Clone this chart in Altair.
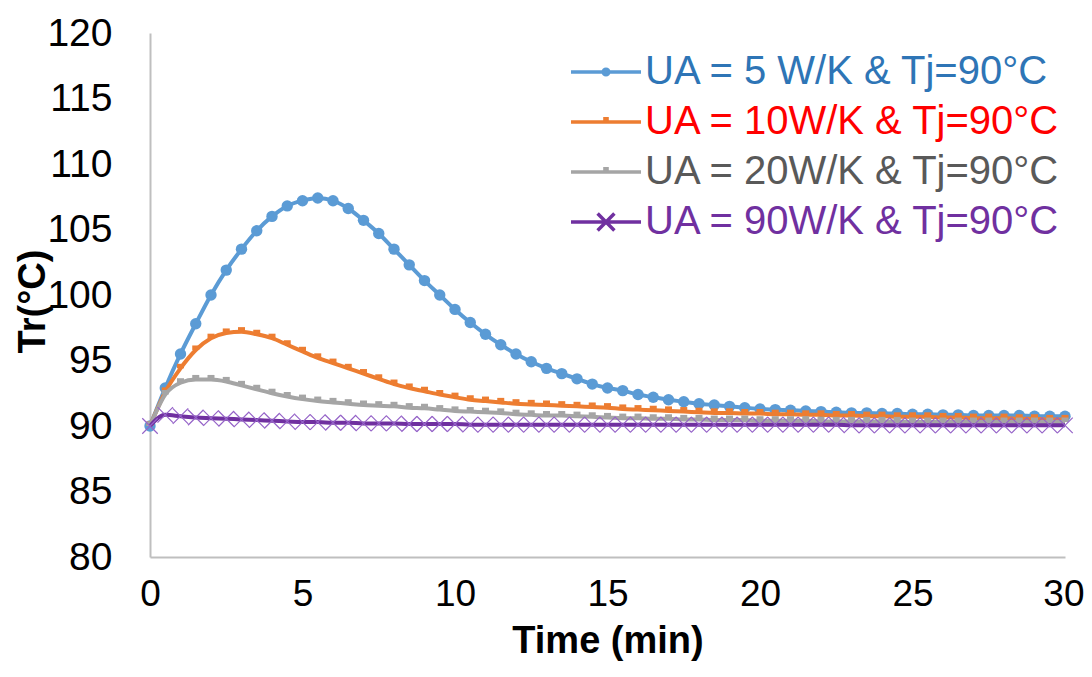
import altair as alt
import pandas as pd

TIME = [0, 0.5, 1, 1.5, 2, 2.5, 3, 3.5, 4, 4.5, 5, 5.5, 6, 6.5, 7, 7.5, 8, 8.5, 9, 9.5,
        10, 10.5, 11, 11.5, 12, 12.5, 13, 13.5, 14, 14.5, 15, 15.5, 16, 16.5, 17, 17.5,
        18, 18.5, 19, 19.5, 20, 20.5, 21, 21.5, 22, 22.5, 23, 23.5, 24, 24.5, 25, 25.5,
        26, 26.5, 27, 27.5, 28, 28.5, 29, 29.5, 30]

SERIES = ["UA = 5 W/K & Tj=90°C", "UA = 10W/K & Tj=90°C",
          "UA = 20W/K & Tj=90°C", "UA = 90W/K & Tj=90°C"]

TR_UA5 = [90.0, 92.9, 95.5, 97.8, 100.0, 101.9, 103.5, 104.9, 106.0, 106.8,
          107.2, 107.4, 107.2, 106.6, 105.7, 104.7, 103.5, 102.3, 101.1, 100.0,
          98.9, 97.9, 97.0, 96.2, 95.5, 94.9, 94.4, 94.0, 93.6, 93.2,
          92.9, 92.7, 92.4, 92.2, 92.0, 91.85, 91.7, 91.6, 91.5, 91.4,
          91.3, 91.25, 91.2, 91.15, 91.1, 91.05, 91.0, 91.0, 90.95, 90.95,
          90.9, 90.9, 90.85, 90.85, 90.8, 90.8, 90.8, 90.8, 90.75, 90.75, 90.75]

TR_UA10 = [90.0, 92.6, 94.4, 95.8, 96.7, 97.1, 97.2, 97.0, 96.7, 96.2,
           95.7, 95.2, 94.8, 94.4, 94.0, 93.6, 93.2, 92.9, 92.65, 92.4,
           92.2, 92.0, 91.9, 91.8, 91.7, 91.65, 91.6, 91.55, 91.5, 91.45,
           91.4, 91.3, 91.25, 91.2, 91.15, 91.1, 91.05, 91.0, 91.0, 90.95,
           90.95, 90.9, 90.9, 90.85, 90.85, 90.8, 90.8, 90.75, 90.75, 90.7,
           90.7, 90.7, 90.65, 90.65, 90.6, 90.6, 90.6, 90.55, 90.55, 90.5, 90.5]

TR_UA20 = [90.0, 92.4, 93.3, 93.55, 93.55, 93.4, 93.1, 92.8, 92.5, 92.25,
           92.05, 91.9, 91.8, 91.7, 91.6, 91.55, 91.5, 91.4, 91.35, 91.25,
           91.15, 91.1, 91.05, 91.0, 90.9, 90.85, 90.8, 90.8, 90.75, 90.7,
           90.65, 90.6, 90.6, 90.55, 90.55, 90.5, 90.5, 90.45, 90.45, 90.45,
           90.4, 90.4, 90.4, 90.4, 90.35, 90.35, 90.35, 90.35, 90.35, 90.35,
           90.3, 90.3, 90.3, 90.3, 90.3, 90.3, 90.3, 90.3, 90.3, 90.3, 90.3]

TR_UA90 = [90.0, 90.85, 90.75, 90.65, 90.6, 90.55, 90.5, 90.45, 90.4, 90.35,
           90.3, 90.3, 90.25, 90.25, 90.2, 90.2, 90.2, 90.15, 90.15, 90.15,
           90.15, 90.1, 90.1, 90.1, 90.1, 90.1, 90.1, 90.1, 90.1, 90.1,
           90.1, 90.1, 90.1, 90.1, 90.1, 90.1, 90.1, 90.1, 90.1, 90.1,
           90.1, 90.1, 90.1, 90.1, 90.1, 90.1, 90.05, 90.05, 90.05, 90.05,
           90.05, 90.05, 90.05, 90.05, 90.05, 90.05, 90.05, 90.05, 90.05, 90.05, 90.05]

X_TICKS = [0, 5, 10, 15, 20, 25, 30]
Y_TICKS = [80, 85, 90, 95, 100, 105, 110, 115, 120]

LINE_COLORS = ["#5B9BD5", "#ED7D31", "#A5A5A5", "#7030A0"]
LABEL_COLORS = ["#2E75B6", "#FF0000", "#595959", "#7030A0"]
LEGEND_SHAPES = [
    "M-1,0L9,0M3.6,0a0.4,0.4 0 1,0 0.8,0a0.4,0.4 0 1,0 -0.8,0",
    "M-1,0L9,0M3.6,-0.45L4.4,-0.45",
    "M-1,0L9,0M3.6,-0.45L4.4,-0.45",
    "M-1,0L9,0M2.8,-1.2L5.2,1.2M2.8,1.2L5.2,-1.2",
]
FONT = "Liberation Sans"

rows = []
for name, vals in zip(SERIES, [TR_UA5, TR_UA10, TR_UA20, TR_UA90]):
    for t, v in zip(TIME, vals):
        rows.append({"series": name, "t": t, "tr": v})
df = pd.DataFrame(rows)


def js_list(items):
    return "[" + ",".join("'" + s + "'" for s in items) + "]"


label_color_expr = f"{js_list(LABEL_COLORS)}[indexof({js_list(SERIES)}, datum.value)]"
symbol_expr = f"{js_list(LEGEND_SHAPES)}[indexof({js_list(SERIES)}, datum.value)]"

legend = alt.Legend(
    title=None, orient="none", legendX=408, legendY=19, padding=0,
    labelFont=FONT, labelFontSize=40, labelColor=alt.ExprRef(expr=label_color_expr),
    symbolType=alt.ExprRef(expr=symbol_expr), symbolSize=196,
    symbolStrokeWidth=3.5, labelOffset=47, rowPadding=10, labelLimit=0,
)

last_tick = f"datum.value == {X_TICKS[-1]}"
x_enc = alt.X("t:Q", scale=alt.Scale(domain=[0, 30], nice=False),
              axis=alt.Axis(values=X_TICKS, title="Time (min)", grid=False, ticks=False,
                            domainColor="#BFBFBF", domainWidth=2, labelFont=FONT,
                            labelFontSize=37, labelColor="black", labelBaseline="middle",
                            labelAlign={"condition": {"test": last_tick, "value": "right"},
                                        "value": "center"},
                            labelOffset={"condition": {"test": last_tick, "value": 19},
                                         "value": 0},
                            labelPadding=37, labelFlush=False, titleFont=FONT,
                            titleFontSize=38, titleFontWeight="bold", titleColor="black",
                            titleBaseline="middle", titleY=84))
y_enc = alt.Y("tr:Q", scale=alt.Scale(domain=[80, 120], nice=False, zero=False),
              axis=alt.Axis(values=Y_TICKS, title="Tr(°C)", grid=False, ticks=False,
                            domainColor="#BFBFBF", domainWidth=2, labelFont=FONT,
                            labelFontSize=39, labelColor="black", labelPadding=38,
                            titleFont=FONT, titleFontSize=38, titleFontWeight="bold",
                            titleColor="black", titleAngle=-90, titleAlign="center",
                            titleBaseline="middle", titleX=-117, titleY=268))
color_enc = alt.Color("series:N", scale=alt.Scale(domain=SERIES, range=LINE_COLORS),
                      legend=legend)

base = alt.Chart(df)
layers = []
for i, name in enumerate(SERIES):
    sub = base.transform_filter(alt.datum.series == name)
    line = sub.mark_line(strokeWidth=4, interpolate="monotone").encode(
        x=x_enc, y=y_enc, color=color_enc)
    layers.append(line)
    if i == 0:
        pts = sub.mark_circle(size=130, opacity=1, color=LINE_COLORS[i])
    elif i in (1, 2):
        pts = sub.mark_point(shape="M-1,-1.3L1,-1.3L1,0L-1,0Z", filled=True, size=49,
                             opacity=1, color=LINE_COLORS[i])
    else:
        pts = sub.mark_point(shape="M-1,-1L1,1M-1,1L1,-1", filled=False, size=240,
                             strokeWidth=1.2, opacity=1, color="#9563C8")
    layers.append(pts.encode(x=x_enc, y=y_enc))

chart = alt.layer(*layers).properties(
    width=915, height=524,
    autosize=alt.AutoSizeParams(type="none"),
    padding={"left": 142, "top": 25, "right": 19, "bottom": 110},
).configure_view(stroke=None)

chart.save("out.html", embed_options={"renderer": "svg", "actions": False})
